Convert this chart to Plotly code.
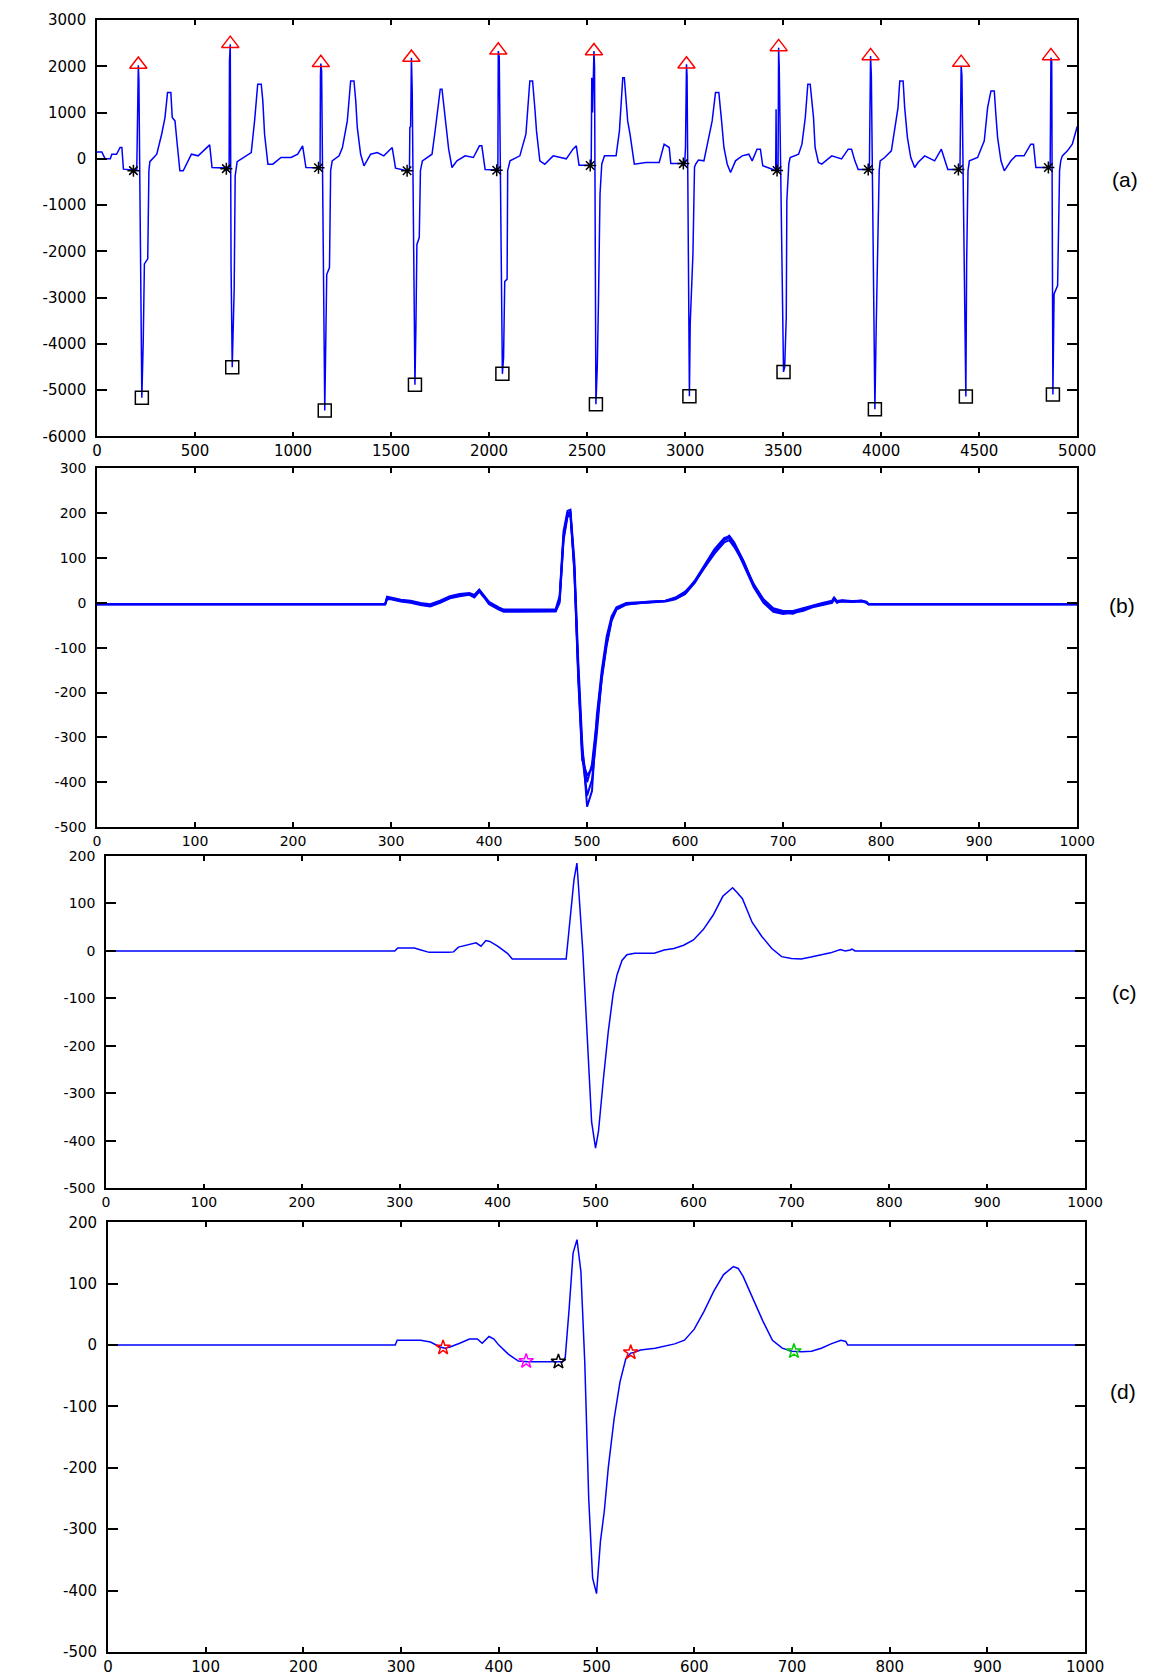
import plotly.graph_objects as go

# ---------------- Panel (a): raw ECG, 5000 samples ----------------
ecg_a = [
    (0, 150), (25, 150), (35, 60), (42, 0), (68, 0), (76, 100), (100, 100), (110, 200), (118, 245), (127, 245),
    (135, -223), (180, -240), (203, -240), (205, 300), (208, 1700), (211, 2022), (214, 1700), (229, -5164),
    (236, -3960), (242, -2270), (259, -2160), (265, -255), (270, -60),
    (305, 100), (330, 532), (347, 892), (360, 1432), (377, 1432), (384, 892), (398, 820), (411, 245), (423, -259),
    (440, -259), (457, -115), (482, 100), (516, 65), (550, 209), (575, 302), (587, -187), (640, -200), (660, -209),
    (674, -200), (676, 2115), (680, 2475), (684, -2300), (690, -4502), (700, -2800), (705, -370), (715, -60),
    (745, 29), (787, 137), (804, 820), (820, 1612), (838, 1612), (846, 1252), (855, 532), (872, -115), (897, -115),
    (939, 29), (990, 29), (1024, 100), (1049, 281), (1066, -187), (1130, -190), (1138, -190),
    (1140, 1800), (1142, 2058), (1146, 1900), (1162, -5438), (1166, -4300), (1172, -2500), (1186, -2350),
    (1192, -255), (1200, -43),
    (1235, 65), (1252, 245), (1277, 820), (1294, 1683), (1311, 1683), (1320, 1252), (1328, 676), (1345, 100),
    (1362, -151), (1396, 100), (1430, 137), (1463, 65), (1506, 245), (1523, -200), (1582, -259), (1594, -250),
    (1596, 676), (1600, 700), (1604, 2187), (1608, 1500), (1622, -4884), (1627, -3600), (1632, -1850),
    (1644, -1700), (1650, -255), (1660, -43),
    (1709, 100), (1726, 640), (1751, 1504), (1760, 1504), (1777, 820), (1794, 209), (1811, -187), (1836, -43),
    (1878, 65), (1920, 29), (1951, 281), (1963, 281), (1980, -230), (2039, -245), (2045, -240),
    (2047, 2330), (2052, 2200), (2068, -4646), (2074, -4300), (2080, -2650), (2092, -2600), (2095, -255),
    (2107, -43),
    (2157, 65), (2188, 532), (2208, 1683), (2222, 1683), (2234, 1072), (2242, 604), (2259, -43), (2284, -115),
    (2327, 65), (2394, 0), (2428, 209), (2445, 281), (2459, -140), (2516, -140), (2521, -140),
    (2524, 1755), (2528, 1000), (2535, 2330), (2538, 2000), (2545, -5302), (2552, -4500), (2558, -3100),
    (2566, -760), (2575, -110), (2589, 65),
    (2648, 65), (2665, 604), (2682, 1755), (2690, 1755), (2707, 820), (2719, 532), (2741, -115), (2800, -79),
    (2868, -79), (2893, 317), (2919, 245), (2927, -103), (2991, -103), (2998, -103),
    (3002, 245), (3007, 2043), (3010, 1800), (3022, -5130), (3026, -3570), (3040, -2050), (3048, -180),
    (3054, -115), (3068, -25),
    (3096, -43), (3122, 460), (3138, 820), (3155, 1432), (3172, 1432), (3186, 820), (3198, 245), (3215, -115),
    (3232, -295), (3257, -43), (3291, 65), (3325, 100), (3342, -43), (3367, 209), (3384, 209), (3396, -150),
    (3462, -253), (3464, 1070), (3466, -253), (3474, -253),
    (3477, 2403), (3480, 2000), (3502, -4604), (3508, -4500), (3516, -3420), (3519, -900), (3529, -110),
    (3536, 29),
    (3579, 100), (3596, 317), (3613, 892), (3626, 1612), (3638, 1612), (3655, 892), (3663, 245), (3680, -79),
    (3697, -115), (3748, 65), (3798, 0), (3832, 209), (3849, 209), (3866, -43), (3883, -232), (3940, -232),
    (3942, 676), (3946, 2223), (3950, 1800), (3968, -5410), (3975, -3570), (3982, -1730), (3990, -255),
    (3995, -43),
    (4018, 29), (4052, 173), (4069, 676), (4086, 1108), (4095, 1683), (4112, 1683), (4120, 1108), (4134, 460),
    (4151, 29), (4171, -187), (4188, -79), (4222, 65), (4273, -43), (4307, 209), (4340, -228), (4402, -228),
    (4405, 900), (4408, 2014), (4412, 1800), (4432, -5137), (4436, -2270), (4443, -255), (4450, -43),
    (4492, 29), (4526, 388), (4543, 1108), (4560, 1468), (4577, 1468), (4585, 964), (4594, 460), (4611, -43),
    (4628, -259), (4662, -43), (4687, 65), (4729, 65), (4763, 317), (4777, 317), (4789, -187), (4862, -185),
    (4864, 2000), (4866, 2187), (4870, 2100), (4876, -5094), (4882, -2920), (4900, -2740), (4910, -255),
    (4916, -43),
    (4924, 65), (4950, 173), (4975, 317), (4992, 604), (5000, 700),
]
ecg_x = [p[0] for p in ecg_a]
ecg_y = [p[1] for p in ecg_a]

r_x = [211, 680, 1142, 1604, 2047, 2535, 3007, 3477, 3946, 4408, 4866]
r_y = [2040, 2490, 2075, 2190, 2345, 2330, 2045, 2420, 2225, 2080, 2225]
q_x = [186, 660, 1130, 1582, 2039, 2516, 2991, 3469, 3934, 4394, 4853]
q_y = [-255, -212, -192, -257, -248, -142, -103, -253, -232, -230, -186]
s_x = [229, 690, 1162, 1622, 2068, 2545, 3022, 3502, 3968, 4432, 4876]
s_y = [-5164, -4502, -5438, -4884, -4646, -5302, -5130, -4604, -5410, -5137, -5094]

# ---------------- Panel (b): overlaid aligned beats ----------------
b_x = [0, 294, 296, 300, 310, 320, 330, 340, 350, 360,
       370, 380, 385, 390, 395, 400, 410, 415, 430, 450,
       468, 472, 476, 480, 483, 487, 491, 495, 500, 505,
       510, 515, 520, 525, 530, 540, 560, 580, 590, 600,
       610, 620, 630, 640, 645, 650, 660, 670, 680, 690,
       700, 710, 720, 730, 740, 750, 752, 755, 760, 770,
       780, 785, 787, 1000]
b_y1 = [-3, -3, 12, 10, 5, 3, -2, -5, 2, 12,
        18, 20, 15, 28, 15, 0, -12, -17, -17, -17,
        -17, 10, 150, 200, 203, 80, -150, -330, -400, -360,
        -260, -160, -85, -35, -12, -2, 0, 3, 8, 20,
        45, 80, 115, 140, 145, 130, 90, 40, 5, -15,
        -20, -20, -15, -8, -3, 2, 10, 2, 3, 2,
        3, 0, -3, -3]
b_y2 = [-3, -3, 8, 8, 3, 0, -5, -8, 0, 10,
        15, 18, 12, 25, 12, -3, -15, -20, -20, -20,
        -19, 0, 140, 192, 196, 70, -170, -350, -385, -370,
        -275, -170, -95, -40, -15, -4, 2, 5, 10, 22,
        50, 85, 120, 145, 148, 132, 85, 35, 0, -20,
        -25, -22, -18, -10, -5, 0, 8, 0, 5, 3,
        5, 2, -3, -3]
b_y3 = [-3, -3, 14, 12, 7, 5, 0, -3, 5, 15,
        20, 22, 18, 30, 17, 2, -10, -15, -15, -15,
        -14, 15, 160, 205, 208, 95, -130, -310, -455, -420,
        -250, -150, -75, -30, -10, 0, 3, 5, 12, 25,
        48, 78, 110, 135, 140, 125, 88, 42, 8, -12,
        -18, -18, -12, -5, 0, 5, 12, 4, 6, 4,
        5, 2, -3, -3]
b_y4 = [-3, -3, 10, 9, 4, 2, -3, -6, 1, 11,
        17, 19, 14, 27, 14, -1, -13, -18, -18, -18,
        -18, 5, 145, 196, 200, 75, -160, -340, -430, -395,
        -290, -165, -90, -38, -14, -3, 1, 4, 9, 20,
        46, 82, 118, 142, 150, 135, 92, 38, 3, -18,
        -22, -24, -15, -7, -2, 3, 9, 1, 4, 3,
        4, 1, -3, -3]

# ---------------- Panel (c): averaged beat ----------------
c_x = [0, 295, 298, 315, 320, 330, 350, 355, 360, 370,
       378, 383, 388, 392, 400, 410, 415, 470, 474, 478,
       481, 484, 487, 490, 493, 496, 500, 503, 508, 513,
       518, 522, 527, 532, 540, 560, 570, 580, 590, 600,
       610, 620, 630, 640, 645, 650, 660, 670, 680, 690,
       700, 710, 720, 730, 740, 750, 755, 760, 762, 765,
       1000]
c_y = [0, 0, 6, 6, 3, -3, -3, -2, 8, 13,
       17, 10, 22, 20, 10, -5, -17, -17, 60, 150,
       185, 95, 0, -120, -250, -360, -415, -380, -270, -170,
       -90, -50, -20, -8, -5, -5, 2, 5, 12, 23,
       45, 75, 115, 133, 122, 110, 60, 30, 5, -12,
       -16, -17, -13, -8, -4, 3, 0, 2, 4, 0,
       0]

# ---------------- Panel (d): beat with detected fiducial points ----------------
d_x = [0, 294, 296, 320, 330, 340, 345, 350, 360, 370,
       378, 383, 390, 395, 400, 410, 420, 430, 465, 468,
       472, 476, 480, 484, 488, 492, 496, 500, 504, 508,
       512, 518, 524, 530, 535, 538, 545, 560, 580, 590,
       600, 610, 620, 630, 640, 645, 650, 660, 670, 680,
       690, 700, 710, 720, 730, 740, 750, 755, 757, 1000]
d_y = [0, 0, 8, 8, 5, -3, -5, -3, 3, 10,
       10, 3, 14, 10, 0, -15, -26, -27, -27, -20,
       60, 150, 172, 120, -30, -250, -380, -405, -320, -270,
       -200, -120, -60, -22, -13, -12, -8, -5, 2, 8,
       26, 55, 88, 115, 128, 125, 112, 75, 40, 8,
       -5, -10, -11, -10, -5, 2, 8, 6, 0, 0]
pt_x = [343, 428, 461, 535, 702]
pt_y = [-4, -26, -27, -12, -10]
pt_colors = ["#ff0000", "#ff00ff", "#000000", "#ff0000", "#00cc00"]

# ---------------- Tick labels ----------------
a_xticks = [0, 500, 1000, 1500, 2000, 2500, 3000, 3500, 4000, 4500, 5000]
a_yticks = [-6000, -5000, -4000, -3000, -2000, -1000, 0, 1000, 2000, 3000]
bcd_xticks = [0, 100, 200, 300, 400, 500, 600, 700, 800, 900, 1000]
b_yticks = [-500, -400, -300, -200, -100, 0, 100, 200, 300]
cd_yticks = [-500, -400, -300, -200, -100, 0, 100, 200]

panel_labels = ["(a)", "(b)", "(c)", "(d)"]

# ---------------- Figure ----------------
BLUE = "#0000ff"
fig = go.Figure()

fig.add_trace(go.Scatter(x=ecg_x, y=ecg_y, mode="lines", line=dict(color=BLUE, width=1.5),
                         xaxis="x", yaxis="y", showlegend=False))
fig.add_trace(go.Scatter(x=r_x, y=r_y, mode="markers",
                         marker=dict(symbol="triangle-up-open", size=15, color="#ff0000", line=dict(width=1.5)),
                         xaxis="x", yaxis="y", showlegend=False))
fig.add_trace(go.Scatter(x=q_x, y=q_y, mode="markers",
                         marker=dict(symbol="asterisk-open", size=10, color="#000000",
                                     line=dict(width=1.5, color="#000000")),
                         xaxis="x", yaxis="y", showlegend=False))
fig.add_trace(go.Scatter(x=s_x, y=s_y, mode="markers",
                         marker=dict(symbol="square-open", size=13, color="#000000", line=dict(width=1.5)),
                         xaxis="x", yaxis="y", showlegend=False))

for yy in (b_y1, b_y2, b_y3, b_y4):
    fig.add_trace(go.Scatter(x=b_x, y=yy, mode="lines", line=dict(color=BLUE, width=2),
                             xaxis="x2", yaxis="y2", showlegend=False))

fig.add_trace(go.Scatter(x=c_x, y=c_y, mode="lines", line=dict(color=BLUE, width=1.5),
                         xaxis="x3", yaxis="y3", showlegend=False))

fig.add_trace(go.Scatter(x=d_x, y=d_y, mode="lines", line=dict(color=BLUE, width=1.5),
                         xaxis="x4", yaxis="y4", showlegend=False))
fig.add_trace(go.Scatter(x=pt_x, y=pt_y, mode="markers",
                         marker=dict(symbol="star-open", size=11, color=pt_colors,
                                     line=dict(width=1.5, color=pt_colors)),
                         xaxis="x4", yaxis="y4", showlegend=False))

W, H = 1157, 1676
# measured mapping between figure pixels and the photographed page
SX, SY, OX, OY = 0.984, 0.987, 2.6, 7.95


def fx(px):
    return ((px - OX) / SX) / W


def fy(py):
    return 1 - ((py - OY) / SY) / H


def xaxis(dom, anchor, rng, vals, fs):
    return dict(domain=dom, anchor=anchor, range=rng, tickmode="array", tickvals=vals,
                ticktext=[str(v) for v in vals],
                showline=True, linecolor="black", linewidth=1.5, mirror="ticks",
                ticks="inside", ticklen=5, tickwidth=1.5, tickcolor="black",
                showgrid=False, zeroline=False, ticklabelstandoff=0,
                tickfont=dict(family="DejaVu Sans", size=fs, color="black"))


def yaxis(dom, anchor, rng, vals, fs):
    return dict(domain=dom, anchor=anchor, range=rng, tickmode="array", tickvals=vals,
                ticktext=[str(v) for v in vals],
                showline=True, linecolor="black", linewidth=1.5, mirror="ticks",
                ticks="inside", ticklen=10, tickwidth=1.5, tickcolor="black",
                showgrid=False, zeroline=False, ticklabelstandoff=6,
                tickfont=dict(family="DejaVu Sans", size=fs, color="black"))


xa = [fx(95), fx(1080)]
xc = [fx(104), fx(1088)]
xd = [fx(106), fx(1088)]

fig.update_layout(
    width=W, height=H,
    margin=dict(l=0, r=0, t=0, b=0),
    paper_bgcolor="white", plot_bgcolor="white",
    xaxis=xaxis(xa, "y", [0, 5000], a_xticks, 15),
    yaxis=yaxis([fy(436), fy(19)], "x", [-6000, 3000], a_yticks, 15),
    xaxis2=xaxis(xa, "y2", [0, 1000], bcd_xticks, 14),
    yaxis2=yaxis([fy(827), fy(468)], "x2", [-500, 300], b_yticks, 14),
    xaxis3=xaxis(xc, "y3", [0, 1000], bcd_xticks, 14),
    yaxis3=yaxis([fy(1189), fy(856)], "x3", [-500, 200], cd_yticks, 14),
    xaxis4=xaxis(xd, "y4", [0, 1000], bcd_xticks, 15),
    yaxis4=yaxis([fy(1653), fy(1223)], "x4", [-500, 200], cd_yticks, 15),
)

label_pos = [(1128, 179), (1125, 605), (1128, 993), (1126, 1392)]
for txt, (px, py) in zip(panel_labels, label_pos):
    fig.add_annotation(text=txt, x=fx(px), y=fy(py), xref="paper", yref="paper",
                       showarrow=False, xanchor="center", yanchor="middle",
                       font=dict(family="Liberation Sans", size=21, color="black"))

# remove the default 8px page margin so the 1157x1676 figure fills the window exactly
page_fix = ("document.documentElement.style.margin='0';document.body.style.margin='0';"
            "document.documentElement.style.overflow='hidden';document.body.style.overflow='hidden';")
fig.write_html("out.html", post_script=page_fix, config={"displayModeBar": False})
